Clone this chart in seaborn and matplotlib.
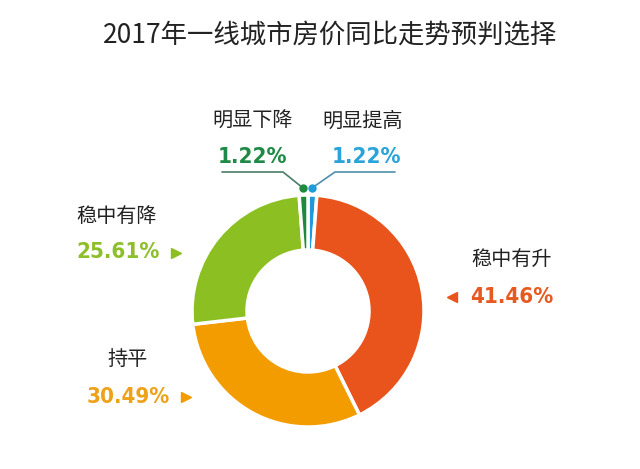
import matplotlib
matplotlib.use("Agg")
import matplotlib.pyplot as plt
import seaborn as sns
from matplotlib import font_manager

title = "2017年一线城市房价同比走势预判选择"
categories = ["明显提高", "稳中有升", "持平", "稳中有降", "明显下降"]
values = [1.22, 41.46, 30.49, 25.61, 1.22]
pct_labels = ["1.22%", "41.46%", "30.49%", "25.61%", "1.22%"]
slice_colors = ["#1f9bd7", "#e8541c", "#f39c00", "#8cbf22", "#1d8a3e"]
text_colors = ["#2aa3d9", "#e65a22", "#eea21a", "#8cbf2a", "#1f8a45"]

sns.set_theme(style="white")
plt.rcParams['font.family'] = ['Noto Sans CJK SC', 'DejaVu Sans']

names = sorted({(f.name, f.stretch, f.weight) for f in font_manager.fontManager.ttflist if 'Condensed' in f.name or 'Narrow' in f.name or f.stretch not in ('normal', 400)})
print(names)

W, H = 640, 469
fig = plt.figure(figsize=(6.4, 4.69), dpi=100)
ax = fig.add_axes([0, 0, 1, 1])

def Y(y):
    return H - y

cx, cy, R = 308, Y(311), 116
ax.pie(values, colors=slice_colors, startangle=90, counterclock=False,
       center=(cx, cy), radius=R,
       wedgeprops=dict(width=55, edgecolor="white", linewidth=2.5))
ax.set_xlim(0, W)
ax.set_ylim(0, H)
ax.set_aspect("auto")
ax.axis("off")

ax.text(330, Y(35), title, ha="center", va="center", fontsize=19, color="#222222")

pct_font = dict(family=["DejaVu Sans"], fontweight="bold", fontstretch="condensed")

# small slices with leader lines
ax.text(253, Y(121), categories[4], ha="center", va="center", fontsize=14.5, color="#222222")
ax.text(252, Y(157), pct_labels[4], ha="center", va="center", fontsize=16, color=text_colors[4], **pct_font)
ax.plot([222, 283, 303], [Y(172), Y(172), Y(188)], color="#4a7c66", lw=1.2)
ax.plot([303], [Y(188)], "o", color=slice_colors[4], ms=5)

ax.text(363, Y(121), categories[0], ha="center", va="center", fontsize=14.5, color="#222222")
ax.text(366, Y(157), pct_labels[0], ha="center", va="center", fontsize=16, color=text_colors[0], **pct_font)
ax.plot([395, 335, 312], [Y(172), Y(172), Y(188)], color="#4f8fae", lw=1.2)
ax.plot([312], [Y(188)], "o", color=slice_colors[0], ms=5)

# 稳中有降
ax.text(117, Y(216), categories[3], ha="center", va="center", fontsize=14.5, color="#222222")
ax.text(118, Y(252), pct_labels[3], ha="center", va="center", fontsize=16, color=text_colors[3], **pct_font)
ax.plot([176], [Y(253)], marker=">", color=slice_colors[3], ms=7, ls="none")

# 持平
ax.text(128, Y(359), categories[2], ha="center", va="center", fontsize=14.5, color="#222222")
ax.text(128, Y(397), pct_labels[2], ha="center", va="center", fontsize=16, color=text_colors[2], **pct_font)
ax.plot([186], [Y(397)], marker=">", color=slice_colors[2], ms=7, ls="none")

# 稳中有升
ax.text(512, Y(259), categories[1], ha="center", va="center", fontsize=14.5, color="#222222")
ax.text(512, Y(297), pct_labels[1], ha="center", va="center", fontsize=16, color=text_colors[1], **pct_font)
ax.plot([452], [Y(297)], marker="<", color=slice_colors[1], ms=7, ls="none")

fig.savefig("out.png", dpi=100, facecolor="white")
